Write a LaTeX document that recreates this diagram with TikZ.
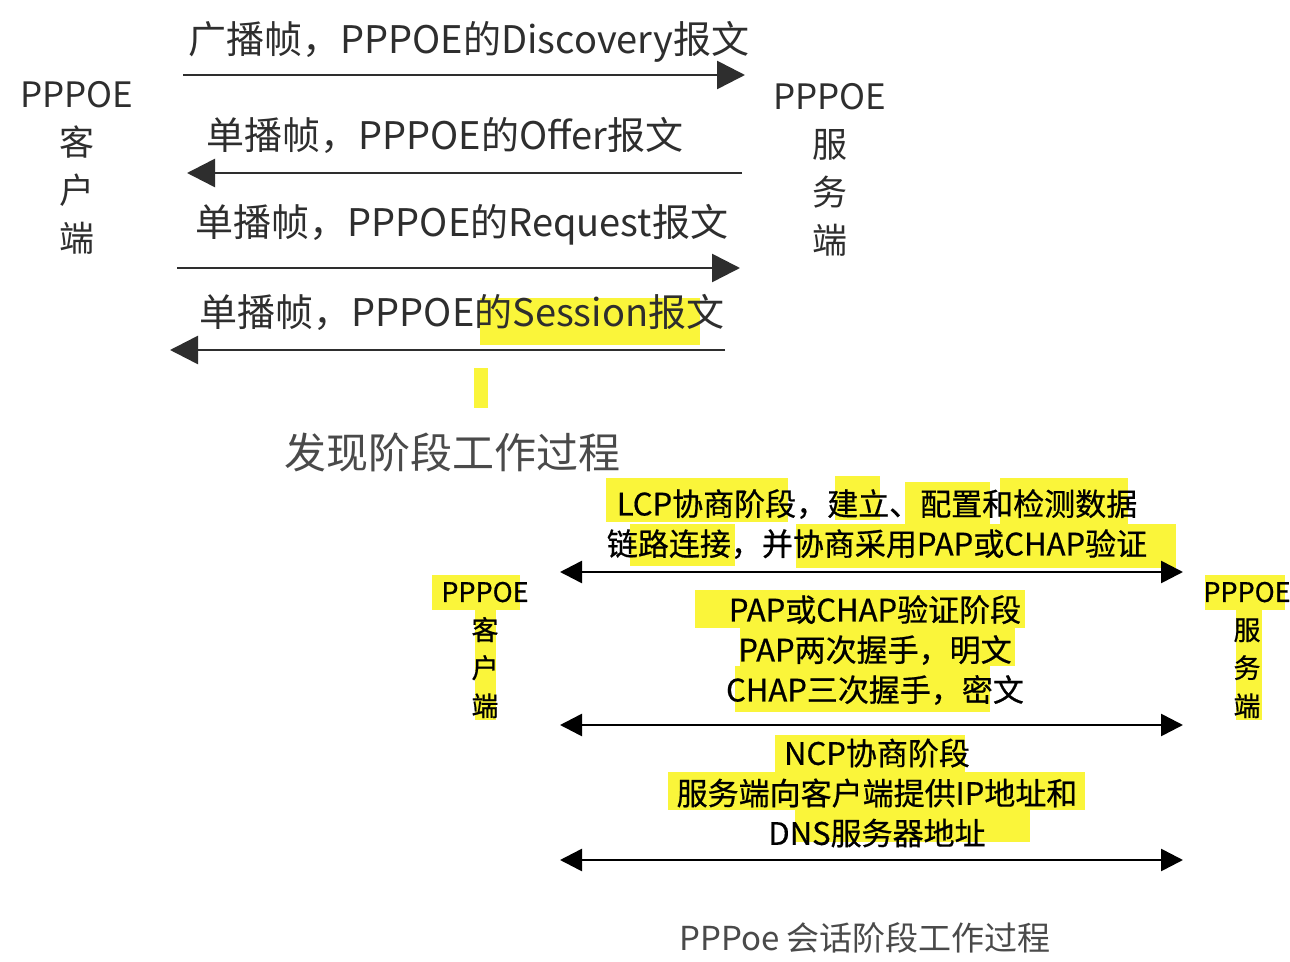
\documentclass[tikz,border=0pt]{standalone}
\usepackage{fontspec}
\setmainfont{Noto Sans CJK SC}
\newfontfamily\phasefont[FakeBold=0.6]{Noto Sans CJK SC}
\usepackage{xcolor}
\usetikzlibrary{positioning,arrows.meta}
\definecolor{hl}{HTML}{FAF53A}
\definecolor{ink}{HTML}{2E2E2E}
\definecolor{capt}{HTML}{4A4A4A}

\begin{document}
\begin{tikzpicture}[x=0.5pt,y=-0.5pt,every node/.style={inner sep=0pt,text=ink},
  msg/.style={font=\fontsize{19}{22}\selectfont},
  side/.style={align=center,font=\fontsize{17.5}{24}\selectfont},
  sideb/.style={align=center,text=black,font=\phasefont\fontsize{13.5}{19}\selectfont},
  phase/.style={align=center,text=black,font=\phasefont\fontsize{15.5}{20}\selectfont},
  capbox/.style={text=capt,font=\fontsize{21}{24}\selectfont},
  hlbox/.style={fill=hl,draw=none},
  arr/.style={draw=ink,line width=1.3pt,-{Triangle[length=14pt,width=14pt]}},
  darr/.style={draw=black,line width=1.3pt,{Triangle[length=11pt,width=11pt]}-{Triangle[length=11pt,width=11pt]}}]
\useasboundingbox[fill=white] (0,0) rectangle (1290,962);

% highlighter marks
\fill[hlbox] (480,298) rectangle (700,345);
\fill[hlbox] (474,368) rectangle (488,408);
\fill[hlbox] (606,478) rectangle (788,522);
\fill[hlbox] (835,476) rectangle (880,520);
\fill[hlbox] (905,482) rectangle (990,524);
\fill[hlbox] (1000,478) rectangle (1128,524);
\fill[hlbox] (630,524) rectangle (735,566);
\fill[hlbox] (796,524) rectangle (1176,568);
\fill[hlbox] (695,590) rectangle (1025,628);
\fill[hlbox] (740,628) rectangle (1015,666);
\fill[hlbox] (735,666) rectangle (990,712);
\fill[hlbox] (775,735) rectangle (965,772);
\fill[hlbox] (668,772) rectangle (1085,810);
\fill[hlbox] (795,810) rectangle (1030,842);
\fill[hlbox] (432,575) rectangle (520,610);
\fill[hlbox] (475,610) rectangle (496,720);
\fill[hlbox] (1205,575) rectangle (1285,610);
\fill[hlbox] (1236,610) rectangle (1262,720);

% discovery stage
\node (cli) [side] at (77,168) {PPPOE\\客\\户\\端};
\node (srv) [side] at (830,170) {PPPOE\\服\\务\\端};
\coordinate (d1a) at (183,75);  \coordinate (d1b) at (745,75);
\coordinate (d2a) at (742,173); \coordinate (d2b) at (187,173);
\coordinate (d3a) at (177,268); \coordinate (d3b) at (740,268);
\coordinate (d4a) at (725,350); \coordinate (d4b) at (170,350);
\draw[arr] (d1a)--(d1b); \draw[arr] (d2a)--(d2b); \draw[arr] (d3a)--(d3b); \draw[arr] (d4a)--(d4b);
\node (disc) [msg] at (469,42) {广播帧，PPPOE的Discovery报文};
\node (offr) [msg] at (445,135) {单播帧，PPPOE的Offer报文};
\node (reqs) [msg] at (462,225) {单播帧，PPPOE的Request报文};
\node (sess) [msg] at (462,312) {单播帧，PPPOE的Session报文};
\node (cap1) [capbox] at (452,452) {发现阶段工作过程};

% session stage
\node (cli2) [sideb] at (485,650) {PPPOE\\客\\户\\端};
\node (srv2) [sideb] at (1247,650) {PPPOE\\服\\务\\端};
\coordinate (s1a) at (560,572); \coordinate (s1b) at (1183,572);
\coordinate (s2a) at (560,725); \coordinate (s2b) at (1183,725);
\coordinate (s3a) at (560,860); \coordinate (s3b) at (1183,860);
\draw[darr] (s1a)--(s1b); \draw[darr] (s2a)--(s2b); \draw[darr] (s3a)--(s3b);
\node (lcp) [phase] at (877,524) {LCP协商阶段，建立、配置和检测数据\\链路连接，并协商采用PAP或CHAP验证};
\node (auth) [phase] at (875,650) {PAP或CHAP验证阶段\\PAP两次握手，明文\\CHAP三次握手，密文};
\node (ncp) [phase] at (877,793) {NCP协商阶段\\服务端向客户端提供IP地址和\\DNS服务器地址};
\node (cap2) [capbox,font=\fontsize{16.5}{20}\selectfont] at (865,938) {PPPoe 会话阶段工作过程};
\end{tikzpicture}
\end{document}
